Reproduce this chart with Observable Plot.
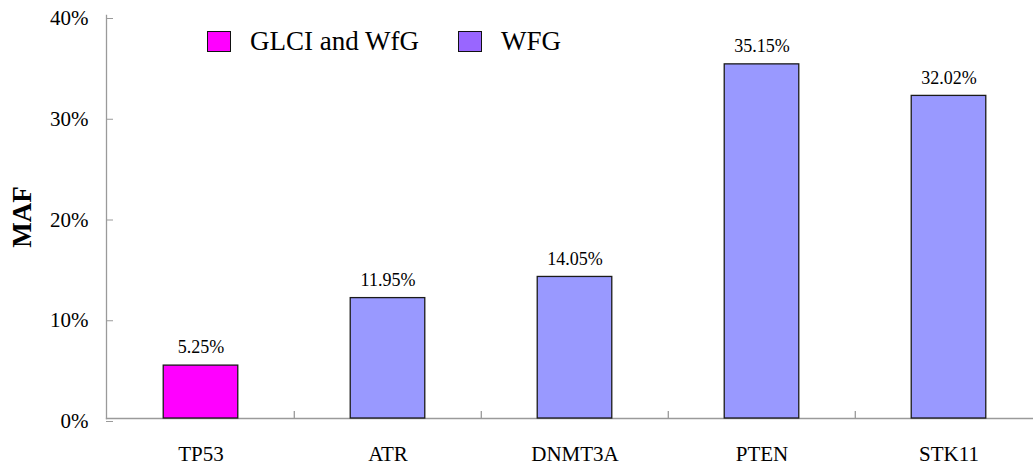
<!DOCTYPE html>
<html>
<head>
<meta charset="utf-8">
<script src="https://cdn.jsdelivr.net/npm/d3@7"></script>
<script src="https://cdn.jsdelivr.net/npm/@observablehq/plot@0.6"></script>
<style>
  html, body { margin: 0; padding: 0; background: #fff; overflow: hidden; }
  #wrap { position: relative; width: 1033px; height: 466px; }
  #legend { position: absolute; left: 0; top: 0; font-family: "Liberation Serif", "Times New Roman", serif; font-size: 27px; color: #000; }
  .item { position: absolute; display: flex; align-items: center; white-space: nowrap; }
  .swatch { width: 22px; height: 19px; border: 1.5px solid #111; margin-right: 19px; }
</style>
</head>
<body>
<div id="wrap"><div id="legend"></div></div>
<script>
// Mutant allele frequency (%) per gene
const genes = ["TP53", "ATR", "DNMT3A", "PTEN", "STK11"];
const maf = [5.25, 11.95, 14.05, 35.15, 32.02];
const groups = ["GLCI and WfG", "WFG", "WFG", "WFG", "WFG"];

const yTicks = [0, 10, 20, 30, 40];

const legendNames = ["GLCI and WfG", "WFG"];
const legendColors = ["#ff00ff", "#9966ff"];
const barColors = {"GLCI and WfG": "#ff00ff", "WFG": "#9999ff"};

const data = genes.map((g, i) => ({gene: g, value: maf[i], group: groups[i]}));

const W = 1033, H = 466;
const mLeft = 106, mRight = -10, mTop = 15, mBottom = 48;
const step = (W - mLeft - mRight) / genes.length;
const serif = "Liberation Serif, Times New Roman, serif";
const axisGray = "#9a9a9a";

const chart = Plot.plot({
  width: W,
  height: H,
  marginLeft: mLeft,
  marginRight: mRight,
  marginTop: mTop,
  marginBottom: mBottom,
  style: {fontFamily: serif, background: "transparent", overflow: "visible"},
  x: {domain: genes, padding: 0, paddingInner: 0, paddingOuter: 0},
  y: {domain: [0, 40]},
  marks: [
    Plot.frame({anchor: "left", stroke: axisGray, strokeWidth: 1.3}),
    Plot.frame({anchor: "bottom", stroke: axisGray, strokeWidth: 1.3}),
    // category separators on the baseline
    Plot.ruleX(genes.slice(1), {x: d => d, dx: -step / 2, y1: 0, y2: 0.7, stroke: axisGray, strokeWidth: 1.3}),
    Plot.axisY({
      ticks: yTicks,
      tickSize: -7,
      tickPadding: 25,
      tickFormat: d => d + "%",
      stroke: axisGray,
      fill: "#000",
      fontSize: 21,
      fontFamily: serif,
      dy: 3,
      label: null
    }),
    Plot.axisX({
      tickSize: 0,
      tickPadding: 28,
      fontSize: 21,
      fontFamily: serif,
      fill: "#000",
      label: null
    }),
    Plot.barY(data, {
      x: "gene",
      y: "value",
      fill: d => barColors[d.group],
      stroke: "#1a1a1a",
      strokeWidth: 1.3,
      insetLeft: step * 0.3,
      insetRight: step * 0.3
    }),
    Plot.text(data, {
      x: "gene",
      y: "value",
      text: d => d.value.toFixed(2) + "%",
      lineAnchor: "middle",
      dy: -18,
      fontSize: 18,
      fontFamily: serif,
      fill: "#000"
    }),
    Plot.text(["MAF"], {
      frameAnchor: "left",
      textAnchor: "middle",
      text: d => d,
      rotate: -90,
      dx: -84,
      fontSize: 27,
      fontWeight: "bold",
      fontFamily: serif,
      fill: "#000"
    })
  ]
});

document.getElementById("wrap").prepend(chart);

// legend drawn over the upper part of the plot area
const legend = d3.select("#legend");
const legendX = [207, 458];
legendNames.forEach((name, i) => {
  const item = legend.append("div").attr("class", "item")
    .style("left", legendX[i] + "px").style("top", "26px").style("height", "30px");
  item.append("div").attr("class", "swatch").style("background", legendColors[i]);
  item.append("span").text(name);
});
</script>
</body>
</html>
